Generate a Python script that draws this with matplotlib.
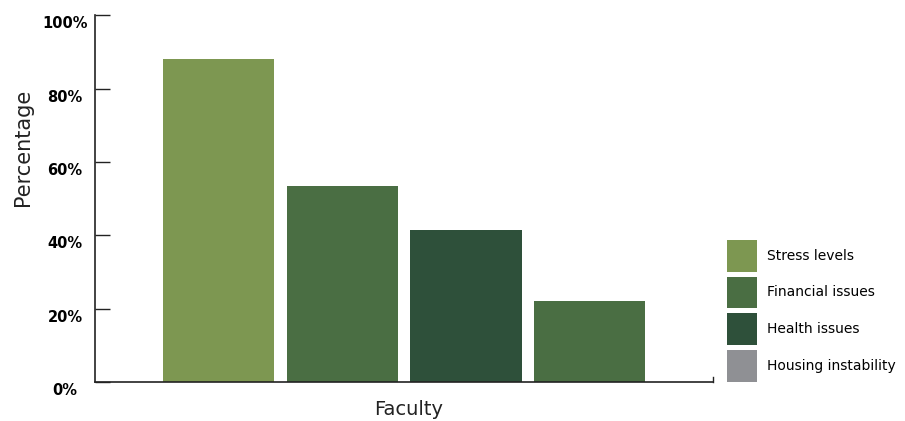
import matplotlib
matplotlib.use('Agg')
import matplotlib.pyplot as plt
import matplotlib.transforms as mtransforms
from matplotlib.patches import Patch

# bars (left to right)
values = [88, 53.5, 41.5, 22]
bar_colors = ['#7d9751', '#4a6e43', '#2e503a', '#4a6e43']

# legend entries
legend_labels = ['Stress levels', 'Financial issues', 'Health issues', 'Housing instability']
legend_colors = ['#7d9751', '#4a6e43', '#2e503a', '#8f9094']

yticks = [0, 20, 40, 60, 80, 100]
ytick_labels = ['%d%%' % t for t in yticks]

fig = plt.figure(figsize=(9.05, 4.21), dpi=100)
ax = fig.add_axes([0.105, 0.0926, 0.683, 0.8714])

ax.bar(range(len(values)), values, width=0.9, color=bar_colors)
ax.set_xlim(-1, 4)
ax.set_ylim(0, 100)

ax.spines['top'].set_visible(False)
ax.spines['right'].set_visible(False)
ax.spines['left'].set_color('#222222')
ax.spines['bottom'].set_color('#222222')
ax.spines['left'].set_linewidth(1.2)
ax.spines['bottom'].set_linewidth(1.2)

ax.set_xticks([])
ax.set_yticks(yticks)
ax.set_yticklabels(ytick_labels, fontsize=10.5, fontweight='bold', ha='center')
ax.tick_params(axis='y', direction='in', length=11, width=1, color='#222222', pad=21.5)
# labels sit a little below their ticks
offset = mtransforms.ScaledTranslation(0, -7 / 100, fig.dpi_scale_trans)
for lab in ax.get_yticklabels():
    lab.set_transform(lab.get_transform() + offset)

# small end tick at right of x axis
ax.plot([4, 4], [0, 1.5], color='#222222', lw=1, clip_on=False)

ax.set_ylabel('Percentage', fontsize=15, color='#222222')
ax.yaxis.set_label_coords(-0.100, 0.64)
ax.set_xlabel('Faculty', fontsize=14, color='#222222')
ax.xaxis.set_label_coords(0.508, -0.049)

handles = [Patch(facecolor=c, edgecolor='none') for c in legend_colors]
leg = ax.legend(handles, legend_labels, loc='lower left', bbox_to_anchor=(1.0226, 0.0),
                frameon=False, fontsize=10, handlelength=2.16, handleheight=3.16,
                labelspacing=0.35, handletextpad=0.7, borderpad=0, borderaxespad=0)

plt.savefig('out.png', dpi=100)
plt.close()
